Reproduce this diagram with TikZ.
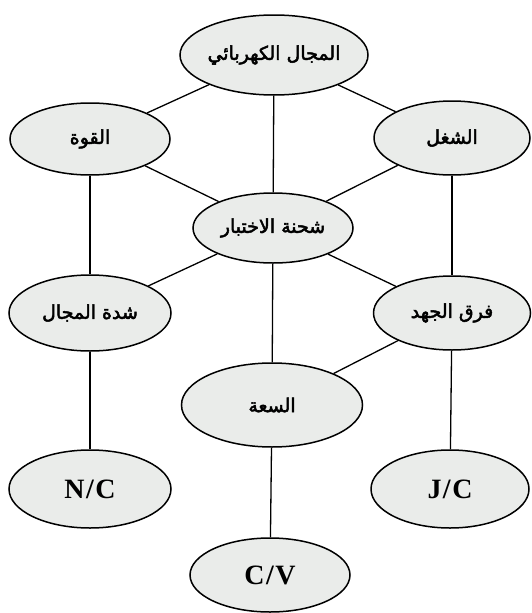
\documentclass[tikz,border=0pt]{standalone}
\usepackage{fontspec}
\setmainfont{Liberation Serif}
\newfontfamily\arabicfont[Script=Arabic, FakeBold=2.5]{DejaVu Sans}
\TeXXeTstate=1
\usetikzlibrary{shapes.geometric}
\definecolor{bubblegray}{RGB}{234,236,234}
\tikzset{bubble/.style = {ellipse, draw, line width=1.5pt, fill=bubblegray,
                          inner sep=0pt, minimum width=160pt, minimum height=74pt}}
\tikzset{concept/.style = {bubble, font=\arabicfont\fontsize{19}{21}\selectfont}}
\tikzset{unit/.style = {bubble, font=\bfseries\fontsize{28}{32}\selectfont}}
\tikzset{link/.style = {line width=1.3pt}}

\begin{document}
\begin{tikzpicture}[x=1pt, y=-1pt]
				\useasboundingbox (0, 0) rectangle (532, 613);
				\node [concept, minimum width=185pt, minimum height=80pt] (0) at (274, 55) {\beginR المجال الكهربائي\endR};
				\node [concept, minimum height=72pt] (1) at (90, 139) {\beginR القوة\endR};
				\node [concept, minimum width=156pt] (2) at (452, 138) {\beginR الشغل\endR};
				\node [concept, minimum height=70pt] (3) at (273, 228) {\beginR شحنة الاختبار\endR};
				\node [concept, minimum width=162pt, minimum height=76pt] (4) at (90, 313) {\beginR شدة المجال\endR};
				\node [concept, minimum width=157pt] (5) at (452, 313) {\beginR فرق الجهد\endR};
				\node [concept, minimum width=181pt, minimum height=84pt] (6) at (272, 405) {\beginR السعة\endR};
				\node [unit, minimum width=162pt, minimum height=78pt] (7) at (90, 489) {N\kern1.5pt/\kern1.5ptC};
				\node [unit, minimum width=158pt, minimum height=78pt] (8) at (450, 489) {J\kern1.5pt/\kern1.5ptC};
				\node [unit] (9) at (270, 575) {C\kern1.5pt/\kern1.5ptV};
				\draw [link] (0) to (1);
				\draw [link] (0) to (2);
				\draw [link] (0) to (3);
				\draw [link] (1) to (3);
				\draw [link] (2) to (3);
				\draw [link] (1) to (4);
				\draw [link] (2) to (5);
				\draw [link] (3) to (4);
				\draw [link] (3) to (5);
				\draw [link] (3) to (6);
				\draw [link] (5) to (6);
				\draw [link] (4) to (7);
				\draw [link] (5) to (8);
				\draw [link] (6) to (9);
		\end{tikzpicture}
\end{document}
